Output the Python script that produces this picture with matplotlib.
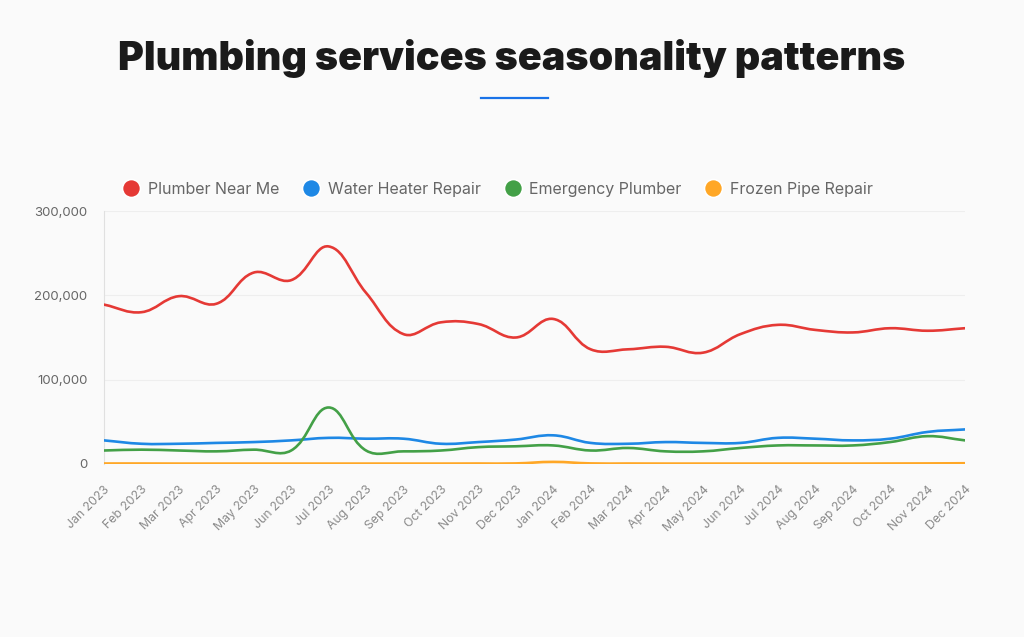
import numpy as np
import matplotlib
matplotlib.use("Agg")
from matplotlib import pyplot as plt
from matplotlib.path import Path
from matplotlib.patches import PathPatch
from matplotlib.lines import Line2D
from matplotlib.ticker import FuncFormatter

# chart data (monthly search volumes)
months = ["Jan 2023", "Feb 2023", "Mar 2023", "Apr 2023", "May 2023", "Jun 2023",
          "Jul 2023", "Aug 2023", "Sep 2023", "Oct 2023", "Nov 2023", "Dec 2023",
          "Jan 2024", "Feb 2024", "Mar 2024", "Apr 2024", "May 2024", "Jun 2024",
          "Jul 2024", "Aug 2024", "Sep 2024", "Oct 2024", "Nov 2024", "Dec 2024"]
plumber_near_me = [189000, 180000, 199000, 190000, 227000, 218000, 258000, 203000,
                   154000, 168000, 166000, 150000, 172000, 136000, 136000, 139000,
                   132000, 154000, 165000, 159000, 156000, 161000, 158000, 161000]
water_heater = [28000, 24000, 24000, 25000, 26000, 28000, 31000, 30000,
                30000, 24000, 26000, 29000, 34000, 25000, 24000, 26000,
                25000, 25000, 31000, 30000, 28000, 30000, 38000, 41000]
emergency = [16000, 17000, 16000, 15000, 17000, 16000, 67000, 16000,
             15000, 16000, 20000, 21000, 22000, 16000, 19000, 15000,
             15000, 19000, 22000, 22000, 22000, 26000, 33000, 28000]
frozen_pipe = [600, 600, 500, 500, 500, 500, 500, 500,
               500, 500, 600, 700, 2500, 700, 600, 500,
               500, 500, 500, 500, 500, 600, 700, 900]

series_names = ["Plumber Near Me", "Water Heater Repair", "Emergency Plumber", "Frozen Pipe Repair"]
series_values = [plumber_near_me, water_heater, emergency, frozen_pipe]
series_colors = ["#e53935", "#1e88e5", "#43a047", "#ffa726"]

bg = "#fafafa"
fig = plt.figure(figsize=(10.24, 6.37), dpi=100, facecolor=bg)
ax = fig.add_axes([104 / 1024, 1 - 464 / 637, (965 - 104) / 1024, (464 - 211) / 637])
ax.set_facecolor(bg)
ax.set_xlim(0, len(months) - 1)
ax.set_ylim(0, 300000)


def smooth_path(xs, ys, tension=0.4):
    # chart.js style bezier spline, control points built in pixel space
    pts = ax.transData.transform(np.column_stack([xs, ys]))
    n = len(pts)
    verts = [pts[0]]
    codes = [Path.MOVETO]
    cps = []
    for i in range(n):
        prev = pts[i - 1] if i > 0 else pts[i]
        cur = pts[i]
        nxt = pts[i + 1] if i < n - 1 else pts[i]
        d01 = np.hypot(*(cur - prev))
        d12 = np.hypot(*(nxt - cur))
        tot = d01 + d12
        s01 = d01 / tot if tot else 0
        s12 = d12 / tot if tot else 0
        cps.append((cur - tension * s01 * (nxt - prev), cur + tension * s12 * (nxt - prev)))
    for i in range(1, n):
        verts += [cps[i - 1][1], cps[i][0], pts[i]]
        codes += [Path.CURVE4] * 3
    verts = ax.transData.inverted().transform(np.array(verts))
    return Path(verts, codes)


x = np.arange(len(months))
for name, vals, col in zip(series_names, series_values, series_colors):
    ax.add_patch(PathPatch(smooth_path(x, vals), facecolor="none", edgecolor=col,
                           linewidth=1.9, capstyle="round", joinstyle="round", zorder=3))

ax.set_yticks([0, 100000, 200000, 300000])
ax.yaxis.set_major_formatter(FuncFormatter(lambda v, p: f"{int(v):,}"))
ax.set_xticks(x)
ax.set_xticklabels(months, rotation=45, ha="right", rotation_mode="anchor")
ax.tick_params(axis="both", length=0, labelsize=9.5)
ax.tick_params(axis="y", pad=12, colors="#666666")
ax.tick_params(axis="x", labelsize=8.8, pad=14, colors="#8a8a8a")
for lab in ax.get_xticklabels() + ax.get_yticklabels():
    lab.set_fontfamily("Inter")
ax.grid(axis="y", color="#eeeeee", linewidth=0.8)
ax.set_axisbelow(True)
for s in ["top", "right", "bottom"]:
    ax.spines[s].set_visible(False)
ax.spines["left"].set_color("#e0e0e0")

# title and underline
fig.text(0.5, 1 - 58 / 637, "Plumbing services seasonality patterns", ha="center", va="center",
         fontsize=28.4, fontweight="black", color="#1a1a1a", family="Inter")
fig.add_artist(Line2D([481 / 1024, 548 / 1024], [1 - 98 / 637] * 2, color="#1a73e8", linewidth=1.6))

handles = [Line2D([], [], marker="o", linestyle="none", markersize=13, markerfacecolor=c,
                  markeredgecolor="white", markeredgewidth=1.2) for c in series_colors]
leg = fig.legend(handles, series_names, loc="center", bbox_to_anchor=(494 / 1024, 1 - 189 / 637),
                 ncol=4, frameon=False, handletextpad=0.05, columnspacing=1.0,
                 prop={"family": "Inter", "size": 11.5})
for t in leg.get_texts():
    t.set_color("#666666")

fig.savefig("out.png", dpi=100, facecolor=bg)
